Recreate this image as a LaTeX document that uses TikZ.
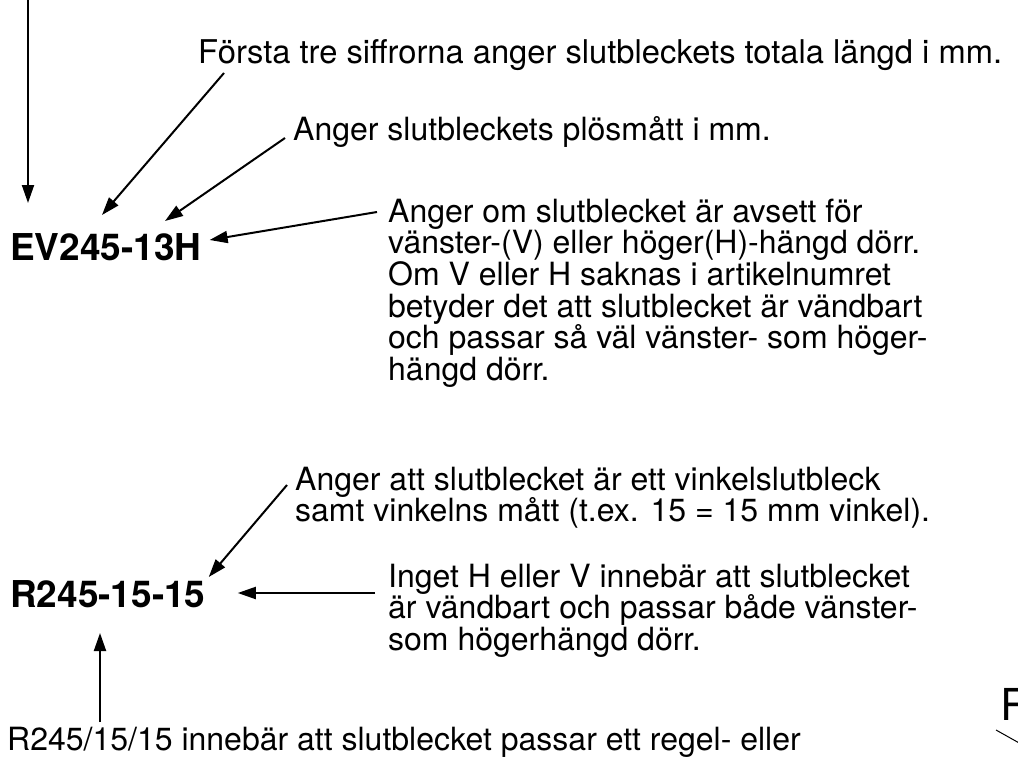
\documentclass[tikz,border=0pt]{standalone}
\usepackage{fontspec}
\setmainfont{TeX Gyre Heros}
\usetikzlibrary{arrows.meta}

\begin{document}
\begin{tikzpicture}[
  x=1pt, y=-1pt,
  note/.style={anchor=base west, align=left, inner sep=0pt, font=\fontsize{32}{31.7}\selectfont},
  code/.style={anchor=base west, inner sep=0pt, font=\fontsize{37}{40}\selectfont\bfseries},
  arrow/.style={-{Triangle[length=18pt, width=12pt]}, line width=2pt}
]
\useasboundingbox (0,0) rectangle (1018,763);
\clip (0,0) rectangle (1018,763);

% artikelnummer
\node[code] (evcode) at (10,260) {EV245-13H};
\node[code] (rcode) at (10,607) {R245-15-15};

% forklaringar (base = sista radens baslinje)
\node[note, font=\fontsize{32.7}{31.7}\selectfont] (lengd) at (198,63) {Första tre siffrorna anger slutbleckets totala längd i mm.};
\node[note] (plos) at (293,140) {Anger slutbleckets plösmått i mm.};
\node[note] (hand) at (388,380.5) {Anger om slutblecket är avsett för\\
  vänster-(V) eller höger(H)-hängd dörr.\\
  Om V eller H saknas i artikelnumret\\
  betyder det att slutblecket är vändbart\\
  och passar så väl vänster- som höger-\\
  hängd dörr.};
\node[note] (vinkel) at (295,521.7) {Anger att slutblecket är ett vinkelslutbleck\\
  samt vinkelns mått (t.ex. 15 = 15 mm vinkel).};
\node[note] (vandbar) at (388,650.4) {Inget H eller V innebär att slutblecket\\
  är vändbart och passar både vänster-\\
  som högerhängd dörr.};
\node[note] (regel) at (7,750) {R245/15/15 innebär att slutblecket passar ett regel- eller};

% avskuren rest nere till hoger
\node[anchor=base west, inner sep=0pt, font=\fontsize{44}{44}\selectfont] (rest) at (1000,720) {R};
\coordinate (ovan) at (28,-10);

% pilar
\draw[arrow] (ovan) -- ([shift={(18,-57)}]evcode.base west);
\draw[arrow] ([shift={(26,10)}]lengd.base west) -- ([shift={(92,-45)}]evcode.base west);
\draw[arrow] ([shift={(-8,-2)}]plos.base west) -- ([shift={(155,-39)}]evcode.base west);
\draw[arrow] ([shift={(-11,-168.5)}]hand.base west) -- ([shift={(8,-20)}]evcode.base east);
\draw[arrow] ([shift={(-8,-36.7)}]vinkel.base west) -- ([shift={(3,-30)}]rcode.base east);
\draw[arrow] ([shift={(-13,-57.4)}]vandbar.base west) -- ([shift={(32,-14)}]rcode.base east);
\draw[arrow] ([shift={(93,-28)}]regel.base west) -- ([shift={(90,26)}]rcode.base west);
\draw[line width=1pt] ([shift={(-4,10)}]rest.base west) -- ++(25,14);
\end{tikzpicture}
\end{document}
